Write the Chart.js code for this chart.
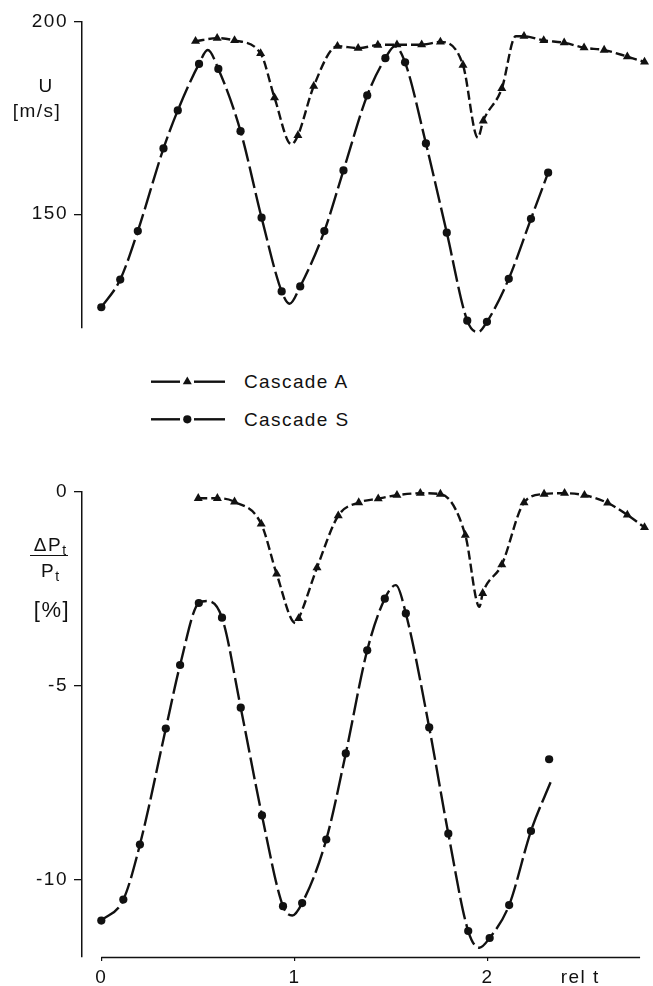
<!DOCTYPE html>
<html><head><meta charset="utf-8">
<script src="https://cdn.jsdelivr.net/npm/chart.js@4.4.0/dist/chart.umd.min.js"></script>
<style>
html,body{margin:0;padding:0;background:#fff;}
body{width:653px;height:986px;position:relative;overflow:hidden;font-family:"Liberation Sans",Arial,sans-serif;color:#111;}
canvas{position:absolute;left:0;}
#c1{top:0;}
#c2{top:440px;}
.lbl{position:absolute;font-size:19px;letter-spacing:1.5px;transform:translate(-50%,-50%);white-space:nowrap;line-height:1;}
.lg{position:absolute;font-size:19px;letter-spacing:1.4px;transform:translateY(-50%);white-space:nowrap;line-height:1;}
.sub{font-size:14px;position:relative;top:4px;letter-spacing:0;}
.fline{position:absolute;left:30px;top:555px;width:38px;border-top:1.5px solid #111;}
</style>
</head><body>
<canvas id="c1" width="653" height="345"></canvas>
<canvas id="c2" width="653" height="546"></canvas>

<div class="lbl" style="left:46px;top:85px;">U</div>
<div class="lbl" style="left:37px;top:110px;">[m/s]</div>

<div class="lbl" style="left:50px;top:544px;">ΔP<span class="sub">t</span></div>
<div class="fline"></div>
<div class="lbl" style="left:50px;top:570px;">P<span class="sub">t</span></div>
<div class="lbl" style="left:52px;top:610px;font-size:22px;">[%]</div>

<svg style="position:absolute;left:140px;top:365px;" width="100" height="70">
  <line x1="11" y1="16.7" x2="40" y2="16.7" stroke="#111" stroke-width="2.4"/>
  <polygon points="47.3,11.5 42.8,19.3 51.8,19.3" fill="#111"/>
  <line x1="54" y1="16.7" x2="85" y2="16.7" stroke="#111" stroke-width="2.4"/>
  <line x1="11" y1="54.3" x2="40" y2="54.3" stroke="#111" stroke-width="2.4"/>
  <circle cx="47.3" cy="54.3" r="4.1" fill="#111"/>
  <line x1="54" y1="54.3" x2="85" y2="54.3" stroke="#111" stroke-width="2.4"/>
</svg>
<div class="lg" style="left:244px;top:381px;">Cascade A</div>
<div class="lg" style="left:244px;top:419px;">Cascade S</div>

<script>
// ---- axis ticks ----
const xTicks = [0, 1, 2];
const xUnitLabel = 'rel t';
const xUnitAt = 2.48;
const xAxisExtent = [0, 2.79];
const topYTicks = [150, 200];
const botYTicks = [-10, -5, 0];

// ---- top panel: U [m/s] ----
const topA_t = [0.488,0.600,0.690,0.825,0.897,1.018,1.100,1.223,1.330,1.432,1.531,1.659,1.756,1.873,1.978,2.074,2.189,2.291,2.397,2.500,2.604,2.724,2.813];
const topA_U = [195.0,195.8,195.2,191.8,180.3,170.5,183.3,193.7,193.2,194.0,194.1,194.1,194.8,188.8,174.3,182.7,196.3,195.2,194.6,193.3,192.7,191.0,189.6];
// extra points (extrema / corners between markers)
const topA_curveT = [0.984,1.950,2.146];
const topA_curveU = [168.2,169.9,196.3];

const topS_t = [0.000,0.098,0.189,0.322,0.396,0.506,0.606,0.721,0.830,0.934,1.030,1.155,1.254,1.377,1.471,1.573,1.681,1.789,1.895,1.997,2.110,2.225,2.314];
const topS_U = [125.8,133.0,145.6,167.1,177.0,189.1,187.8,171.6,149.1,129.9,131.2,145.6,161.4,180.9,190.6,189.5,168.4,145.2,122.3,122.0,133.2,148.8,160.8];
const topS_curveT = [0.551,0.975,1.520,1.950];
const topS_curveU = [192.7,126.7,193.7,119.3];

// ---- bottom panel: ΔPt/Pt [%] ----
const botA_t = [0.502,0.601,0.690,0.828,0.908,1.022,1.117,1.227,1.333,1.434,1.531,1.652,1.756,1.885,1.975,2.074,2.189,2.293,2.399,2.502,2.622,2.724,2.813];
const botA_P = [-0.17,-0.17,-0.26,-0.83,-2.12,-3.27,-1.96,-0.62,-0.28,-0.18,-0.09,-0.04,-0.06,-1.12,-2.62,-1.88,-0.28,-0.06,-0.04,-0.09,-0.29,-0.60,-0.92];
const botA_curveT = [1.006,1.958];
const botA_curveP = [-3.39,-2.97];

const botS_t = [0.000,0.114,0.200,0.334,0.408,0.505,0.625,0.722,0.832,0.941,1.040,1.165,1.266,1.377,1.468,1.577,1.698,1.797,1.900,2.011,2.112,2.225,2.319];
const botS_P = [-11.06,-10.52,-9.10,-6.11,-4.47,-2.87,-3.25,-5.57,-8.35,-10.69,-10.61,-8.97,-6.75,-4.09,-2.76,-3.14,-6.08,-8.82,-11.33,-11.51,-10.66,-8.75,-6.90];
const botS_curveT = [0.547,0.989,1.525,1.958,2.331];
const botS_curveP = [-2.82,-10.93,-2.41,-11.76,-7.44];

// ---- helpers ----
const INK = '#111';
const FONT = {family:'"Liberation Sans", Arial, sans-serif', size:19};
function pts(t, v){ return t.map((x,i)=>({x:x, y:v[i]})); }
function curvePts(t, v, ct, cv, dropLast){
  let p = pts(t, v);
  if (dropLast) p = p.slice(0, -1);
  return p.concat(pts(ct, cv)).sort((a,b)=>a.x-b.x);
}
function lineDs(data, dash){
  return {data, borderColor:INK, borderWidth:2.4, borderDash:dash, pointRadius:0, pointHoverRadius:0,
          fill:false, cubicInterpolationMode:'monotone', clip:false, order:1};
}
function markDs(data, style, r){
  return {data, showLine:false, pointStyle:style, pointRadius:r, pointHoverRadius:r,
          pointBackgroundColor:INK, pointBorderColor:INK, pointBorderWidth:0, clip:false, order:0};
}
const spacing = {id:'spacing', beforeDraw(chart){ chart.ctx.letterSpacing = '1.5px'; }};
const xBase = {id:'xBase', afterDraw(chart){
  const xs = chart.scales.x, ctx = chart.ctx, yy = chart.chartArea.bottom + 0.5;
  ctx.save(); ctx.strokeStyle = INK; ctx.lineWidth = 1.4;
  ctx.beginPath(); ctx.moveTo(xs.getPixelForValue(xAxisExtent[0]), yy);
  ctx.lineTo(xs.getPixelForValue(xAxisExtent[1]), yy); ctx.stroke(); ctx.restore();
}};
function yAxis(min, max, tickVals){
  return {type:'linear', min, max,
    afterFit(s){ s.width = 82; },
    afterBuildTicks(s){ s.ticks = tickVals.map(v=>({value:v})); },
    ticks:{font:FONT, color:INK, padding:6, callback:v=>String(v)},
    grid:{drawOnChartArea:false, drawTicks:true, tickLength:8, color:INK, lineWidth:1.3},
    border:{display:true, color:INK, width:1.5}};
}
const common = {responsive:false, animation:false, events:[],
  plugins:{legend:{display:false}, tooltip:{enabled:false}}};

// ---- top chart ----
new Chart(document.getElementById('c1'), {
  type:'line',
  data:{datasets:[
    lineDs(curvePts(topA_t, topA_U, topA_curveT, topA_curveU, false), [9,4]),
    lineDs(curvePts(topS_t, topS_U, topS_curveT, topS_curveU, false), [22,5]),
    markDs(pts(topA_t, topA_U), 'triangle', 5.2),
    markDs(pts(topS_t, topS_U), 'circle', 4.1)
  ]},
  options:Object.assign({}, common, {
    layout:{padding:{top:22, bottom:11.36, left:0, right:0}},
    scales:{
      x:{type:'linear', display:false, min:-0.1, max:2.83},
      y:yAxis(120.5, 200, topYTicks)
    }
  }),
  plugins:[spacing]
});

// ---- bottom chart ----
new Chart(document.getElementById('c2'), {
  type:'line',
  data:{datasets:[
    lineDs(curvePts(botA_t, botA_P, botA_curveT, botA_curveP, false), [9,4]),
    lineDs(curvePts(botS_t, botS_P, botS_curveT, botS_curveP, true), [22,5]),
    markDs(pts(botA_t, botA_P), 'triangle', 5.2),
    markDs(pts(botS_t, botS_P), 'circle', 4.1)
  ]},
  options:Object.assign({}, common, {
    layout:{padding:{top:51.7, bottom:0, left:0, right:0}},
    scales:{
      x:{type:'linear', min:-0.1, max:2.83,
        afterFit(s){ s.height = 29; },
        afterBuildTicks(s){ s.ticks = xTicks.map(v=>({value:v})).concat([{value:xUnitAt}]); },
        ticks:{autoSkip:false, maxRotation:0, font:FONT, color:INK, padding:5,
               callback:v=> v===xUnitAt ? xUnitLabel : String(v)},
        grid:{drawOnChartArea:false, drawTicks:true, tickLength:4, lineWidth:1.2,
              color:c=> (c.tick && c.tick.value===xUnitAt) ? 'rgba(0,0,0,0)' : INK},
        border:{display:false}},
      y:yAxis(-12, 0, botYTicks)
    }
  }),
  plugins:[spacing, xBase]
});
</script>
</body></html>
